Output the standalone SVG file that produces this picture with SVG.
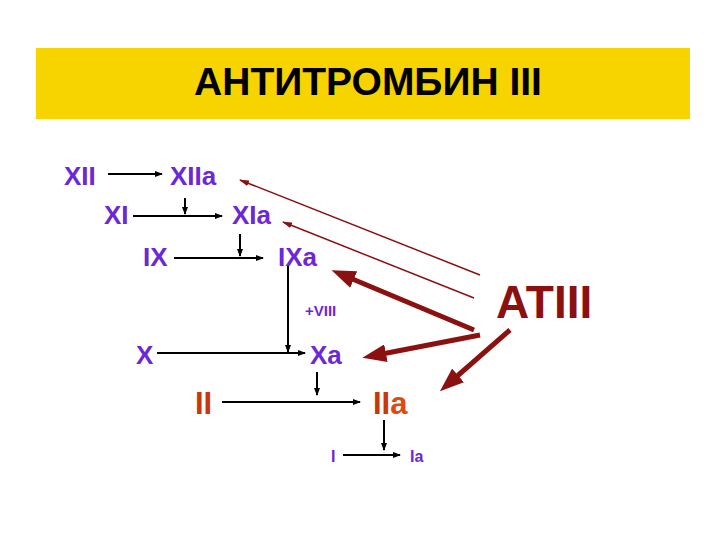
<svg xmlns="http://www.w3.org/2000/svg" width="720" height="540" viewBox="0 0 720 540">
<defs>
<marker id="ab" markerWidth="8" markerHeight="6" refX="7" refY="3" orient="auto" markerUnits="userSpaceOnUse"><path d="M0,0L8,3L0,6z" fill="#000"/></marker>
<marker id="ar" markerWidth="10" markerHeight="6" refX="9" refY="3" orient="auto" markerUnits="userSpaceOnUse"><path d="M0,0L10,3L0,6z" fill="#8B1010"/></marker>
<marker id="aR" markerWidth="24" markerHeight="18" refX="4" refY="9" orient="auto" markerUnits="userSpaceOnUse"><path d="M0,0L24,9L0,18z" fill="#8B1010"/></marker>
</defs>
<style>
text{font-family:"Liberation Sans",Arial,sans-serif;font-weight:bold}
.p{fill:#6A28D8;font-size:26px}
.o{fill:#C8380F;font-size:31px}
.k{stroke:#000;stroke-width:2;fill:none;marker-end:url(#ab)}
.t{stroke:#8B1010;stroke-width:1.5;fill:none;marker-end:url(#ar)}
.T{stroke:#8B1010;stroke-width:5;fill:none;marker-end:url(#aR)}
</style>
<rect x="0" y="0" width="720" height="540" fill="#fff"/>
<rect x="36" y="48" width="654" height="71" fill="#F7D300"/>
<text x="368" y="95" font-size="39" text-anchor="middle" fill="#000">АНТИТРОМБИН III</text>
<g id="connectors">
<path class="k" d="M108,174H162"/>
<path class="k" d="M133,216H222"/>
<path class="k" d="M185,198V214"/>
<path class="k" d="M174,258H263"/>
<path class="k" d="M240,234V256"/>
<path class="k" d="M288,264V352"/>
<path class="k" d="M157,353H305"/>
<path class="k" d="M317,372V395"/>
<path class="k" d="M222,402H360"/>
<path class="k" d="M384,420V450"/>
<path class="k" d="M343,455H400"/>
<path class="t" d="M480,275L240,180"/>
<path class="t" d="M474,298L283,222"/>
<path class="T" d="M474,330L350,278"/>
<path class="T" d="M480,335L382,354"/>
<path class="T" d="M510,330L455,378"/>
</g>
<g id="XII"><text class="p" x="64" y="185">XII</text></g>
<g id="XIIa"><text class="p" x="170" y="185">XIIa</text></g>
<g id="XI"><text class="p" x="104" y="224">XI</text></g>
<g id="XIa"><text class="p" x="232" y="224">XIa</text></g>
<g id="IX"><text class="p" x="143" y="266">IX</text></g>
<g id="IXa"><text class="p" x="278" y="266">IXa</text></g>
<g id="VIII"><text x="305" y="316" font-size="15" fill="#6A28D8">+VIII</text></g>
<g id="X"><text class="p" x="136" y="364">X</text></g>
<g id="Xa"><text class="p" x="310" y="364">Xa</text></g>
<g id="II"><text class="o" x="195" y="414">II</text></g>
<g id="IIa"><text class="o" x="373" y="414">II<tspan fill="#E04A10">a</tspan></text></g>
<g id="I"><text x="331" y="462" font-size="16" fill="#6A28D8">I</text></g>
<g id="Ia"><text x="410" y="462" font-size="16" fill="#6A28D8">Ia</text></g>
<g id="ATIII"><text x="496" y="318" font-size="46" fill="#8B1010">ATIII</text></g>
</svg>
